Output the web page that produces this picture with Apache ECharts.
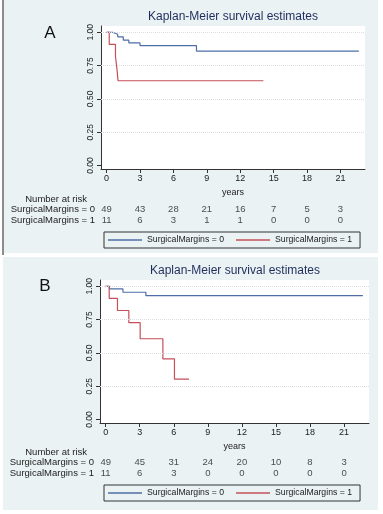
<!DOCTYPE html>
<html><head><meta charset="utf-8">
<script src="https://cdn.jsdelivr.net/npm/echarts@6/dist/echarts.min.js"></script>
<style>
html,body{margin:0;padding:0;background:#fff;width:383px;height:514px;overflow:hidden;}
#a,#b,#lineA{position:absolute;}
#a{left:4px;top:0;width:374px;height:253px;background:#eaf2f3;}
#b{left:3px;top:257px;width:375px;height:253px;background:#eaf2f3;}
#lineA{left:2px;top:0;width:2px;height:255px;background:#8c8c8c;}
</style></head><body>
<div id="lineA"></div><div id="a"></div><div id="b"></div>
<script>
// ---- data ----
const xTicks = [0, 3, 6, 9, 12, 15, 18, 21];
const yTicks = [0, 0.25, 0.5, 0.75, 1];
const yTickLabels = ['0.00', '0.25', '0.50', '0.75', '1.00'];
const gridValues = [0.25, 0.5, 0.75, 1];
const groups = ['SurgicalMargins = 0', 'SurgicalMargins = 1'];
const titleText = 'Kaplan-Meier survival estimates';

// Panel A
const timeA0 = [0, 0.54, 1.0, 1.5, 2.0, 3.0, 8.07, 22.65];
const survA0 = [1, 0.985, 0.966, 0.941, 0.92, 0.90, 0.859, 0.859];
const timeA1 = [0, 0.24, 0.8, 0.93, 1.03, 14.08];
const survA1 = [1, 0.909, 0.818, 0.727, 0.636, 0.636];
const riskA0 = [49, 43, 28, 21, 16, 7, 5, 3];
const riskA1 = [11, 6, 3, 1, 1, 0, 0, 0];

// Panel B
const timeB0 = [0, 0.33, 1.52, 3.54, 22.66];
const survB0 = [1, 0.98, 0.955, 0.93, 0.93];
const timeB1 = [0, 0.31, 1.04, 2.04, 3.04, 5.04, 6.06, 7.34];
const survB1 = [1, 0.909, 0.818, 0.727, 0.606, 0.455, 0.303, 0.303];
const riskB0 = [49, 45, 31, 24, 20, 10, 8, 3];
const riskB1 = [11, 6, 3, 0, 0, 0, 0, 0];

const BLUE = '#4d6fa6', RED = '#c4505a', INK = '#222', FONT = 'Liberation Sans, Arial, sans-serif';

function zip(t, s) { return t.map((v, i) => [v, s[i]]); }

function build(el, ox, oy, cfg) {
  const chart = echarts.init(document.getElementById(el), null, {renderer: 'canvas'});
  const P = cfg.plot, R = cfg.risk;
  const option = {
    animation: false,
    textStyle: {fontFamily: FONT},
    graphic: [
      {type: 'text', x: cfg.title[0] - ox, y: cfg.title[1] - oy,
       style: {text: titleText, fontSize: 12, fill: '#1e2d5c', align: 'center', verticalAlign: 'middle', fontFamily: FONT}},
      {type: 'text', x: cfg.letter[0] - ox, y: cfg.letter[1] - oy,
       style: {text: cfg.letterText, fontSize: 17, fill: '#111', align: 'center', verticalAlign: 'middle', fontFamily: FONT}},
      {type: 'text', x: cfg.nar[0] - ox, y: cfg.nar[1] - oy,
       style: {text: 'Number at risk', fontSize: 9.5, fill: INK, align: 'right', verticalAlign: 'middle', fontFamily: FONT}}
    ],
    grid: [
      {left: P.left - ox, top: P.top - oy, width: P.width, height: P.height, show: true, backgroundColor: '#fff', borderWidth: 0},
      {left: R.left - ox, top: R.top - oy, width: R.width, height: R.height}
    ],
    xAxis: [
      {type: 'value', gridIndex: 0, min: -0.5, max: 23.2,
       axisLine: {show: true, onZero: false, lineStyle: {color: '#333', width: 1}},
       axisTick: {show: true, customValues: xTicks, length: 4, lineStyle: {color: '#333'}},
       axisLabel: {customValues: xTicks, formatter: v => String(v), fontSize: 9, color: INK, margin: 5},
       splitLine: {show: false},
       name: 'years', nameLocation: 'middle', nameGap: 15, nameTextStyle: {fontSize: 9, color: INK}},
      {type: 'value', gridIndex: 1, min: -0.5, max: 23.2, show: false}
    ],
    yAxis: [
      {type: 'value', gridIndex: 0, min: -0.026, max: 1.047,
       axisLine: {show: true, onZero: false, lineStyle: {color: '#333', width: 1}},
       axisTick: {show: true, customValues: yTicks, length: 4, lineStyle: {color: '#333'}},
       axisLabel: {customValues: yTicks, rotate: 90, margin: 6, fontSize: 8.5, color: INK,
         formatter: v => { const i = yTicks.indexOf(v); return i >= 0 ? yTickLabels[i] : v.toFixed(2); }},
       splitLine: {show: false}},
      {type: 'category', gridIndex: 1, data: groups, inverse: true,
       axisLine: {show: false}, axisTick: {show: false},
       axisLabel: {fontSize: 9.5, color: INK, margin: 6, interval: 0, hideOverlap: false}}
    ],
    legend: {
      data: groups.map(n => ({name: n, icon: 'rect'})),
      left: cfg.legend[0] - ox, top: cfg.legend[1] - oy, orient: 'horizontal',
      itemWidth: 34, itemHeight: 1.5, itemGap: 12, padding: [3, 8, 3, 4],
      borderColor: '#333', borderWidth: 1, borderRadius: 0, selectedMode: false,
      textStyle: {fontSize: 8.7, color: INK, lineHeight: 10}
    },
    series: [
      {name: groups[0], type: 'line', xAxisIndex: 0, yAxisIndex: 0, step: 'end', symbol: 'none',
       data: zip(cfg.t0, cfg.s0), lineStyle: {color: BLUE, width: 1.2}, itemStyle: {color: BLUE}, z: 3,
       markLine: {silent: true, symbol: 'none', label: {show: false}, animation: false,
         lineStyle: {color: '#d9dee3', type: 'dotted', width: 1},
         data: gridValues.map(v => ({yAxis: v}))}},
      {name: groups[1], type: 'line', xAxisIndex: 0, yAxisIndex: 0, step: 'end', symbol: 'none',
       data: zip(cfg.t1, cfg.s1), lineStyle: {color: RED, width: 1.2}, itemStyle: {color: RED}, z: 4},
      {type: 'scatter', xAxisIndex: 1, yAxisIndex: 1, symbolSize: 1, itemStyle: {color: 'rgba(0,0,0,0)'},
       data: xTicks.map((x, i) => [x, 0, cfg.r0[i]]), encode: {x: 0, y: 1},
       label: {show: true, position: 'inside', formatter: p => String(p.value[2]), fontSize: 9.5, color: INK}},
      {type: 'scatter', xAxisIndex: 1, yAxisIndex: 1, symbolSize: 1, itemStyle: {color: 'rgba(0,0,0,0)'},
       data: xTicks.map((x, i) => [x, 1, cfg.r1[i]]), encode: {x: 0, y: 1},
       label: {show: true, position: 'inside', formatter: p => String(p.value[2]), fontSize: 9.5, color: INK}}
    ]
  };
  chart.setOption(option);
}

build('a', 4, 0, {
  title: [233, 17], letter: [50, 33], letterText: 'A', nar: [87, 199],
  plot: {left: 101, top: 26, width: 264, height: 143},
  risk: {left: 101, top: 204, width: 264, height: 22},
  legend: [104, 232],
  t0: timeA0, s0: survA0, t1: timeA1, s1: survA1, r0: riskA0, r1: riskA1
});
build('b', 3, 257, {
  title: [235, 271], letter: [45, 286], letterText: 'B', nar: [87, 452],
  plot: {left: 100, top: 280, width: 269, height: 143},
  risk: {left: 100, top: 457, width: 269, height: 22},
  legend: [104, 485],
  t0: timeB0, s0: survB0, t1: timeB1, s1: survB1, r0: riskB0, r1: riskB1
});
</script>
</body></html>
